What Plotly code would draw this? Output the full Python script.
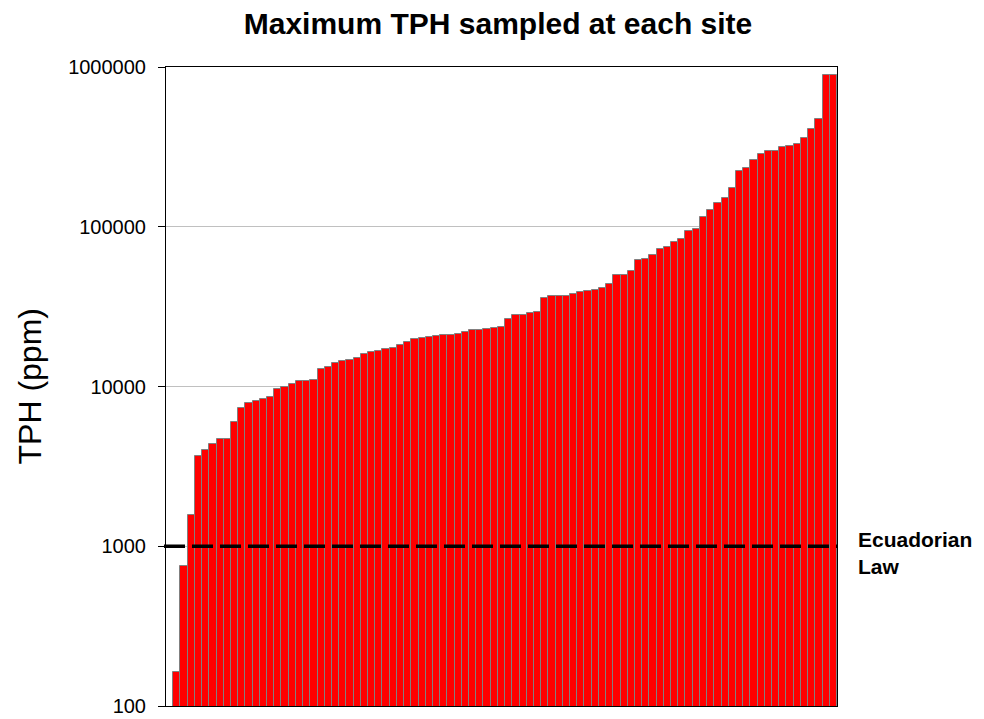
import plotly.graph_objects as go

# Maximum TPH (ppm) per site, sorted ascending (first slot has no visible bar)
sites = list(range(1, 94))
tph_max = [
    None, 163, 750, 1580, 3690, 4020, 4350, 4660, 4660, 5990,
    7320, 7910, 8140, 8380, 8630, 9620, 9910, 10330, 10790, 10900,
    10950, 12960, 13280, 14060, 14480, 14750, 15110, 16070, 16480, 16720,
    17220, 17540, 18240, 19030, 19950, 20050, 20330, 20740, 20930, 21040,
    21230, 21970, 22710, 22710, 22820, 23110, 23710, 26490, 27910, 27910,
    28840, 29280, 35980, 36660, 36660, 37040, 38140, 39080, 39810, 40000,
    41140, 43820, 49630, 49630, 52590, 61550, 62820, 66830, 72550, 74340,
    80580, 83340, 94410, 96170, 114300, 127000, 139900, 151800, 175200, 223900,
    234900, 263400, 286000, 298500, 300000, 315000, 322300, 331700, 359700, 411800,
    473200, 891300, 891300,
]
law_limit = 1000
law_label = "Ecuadorian<br>Law"
y_tickvals = [100, 1000, 10000, 100000, 1000000]
y_ticktext = ["100", "1000", "10000", "100000", "1000000"]
title_text = "Maximum TPH sampled at each site"
y_title = "TPH (ppm)"

FONT = "Liberation Sans, Arial, sans-serif"
FIG_W, FIG_H = 976, 711

fig = go.Figure()
fig.add_trace(go.Bar(
    x=sites, y=tph_max,
    marker=dict(color="#FF0000", line=dict(color="#808080", width=1)),
    hoverinfo="x+y",
))

fig.add_shape(type="line", xref="paper", yref="y",
              x0=-0.003, x1=1, y0=law_limit, y1=law_limit,
              line=dict(color="black", width=3.5, dash="21px,7px"))

fig.add_annotation(text=law_label, xref="paper", yref="y",
                   x=1, y=3, xanchor="left", yanchor="middle", align="left",
                   xshift=19, yshift=-7, showarrow=False,
                   font=dict(family=FONT, size=21, color="black", weight="bold"))

fig.add_annotation(text=y_title, xref="paper", yref="paper",
                   x=0, y=0.5, xanchor="center", yanchor="middle",
                   xshift=-137, textangle=-90, showarrow=False,
                   font=dict(family=FONT, size=32, color="black"))

fig.update_layout(
    width=FIG_W, height=FIG_H,
    margin=dict(l=158, r=147, t=59, b=13, autoexpand=False),
    paper_bgcolor="white", plot_bgcolor="white",
    bargap=0,
    showlegend=False,
    title=dict(text=title_text, x=490 / FIG_W, xanchor="center",
               y=1 - 15 / FIG_H, yanchor="middle", yref="container",
               automargin=False,
               font=dict(family=FONT, size=30, color="black", weight="bold")),
    font=dict(family=FONT, color="black"),
)
fig.update_xaxes(range=[0.5, 93.5], showticklabels=False, ticks="",
                 showgrid=False, zeroline=False, automargin=False,
                 showline=True, linecolor="black", linewidth=1, mirror=True)
fig.update_yaxes(type="log", range=[2, 6],
                 tickvals=y_tickvals, ticktext=y_ticktext,
                 ticks="outside", ticklen=7, tickcolor="black",
                 ticklabelstandoff=8, automargin=False,
                 tickfont=dict(family=FONT, size=20, color="black"),
                 showgrid=True, gridcolor="#C0C0C0", gridwidth=1,
                 showline=True, linecolor="black", linewidth=1, mirror=True,
                 zeroline=False)

fig.write_html("out.html")
